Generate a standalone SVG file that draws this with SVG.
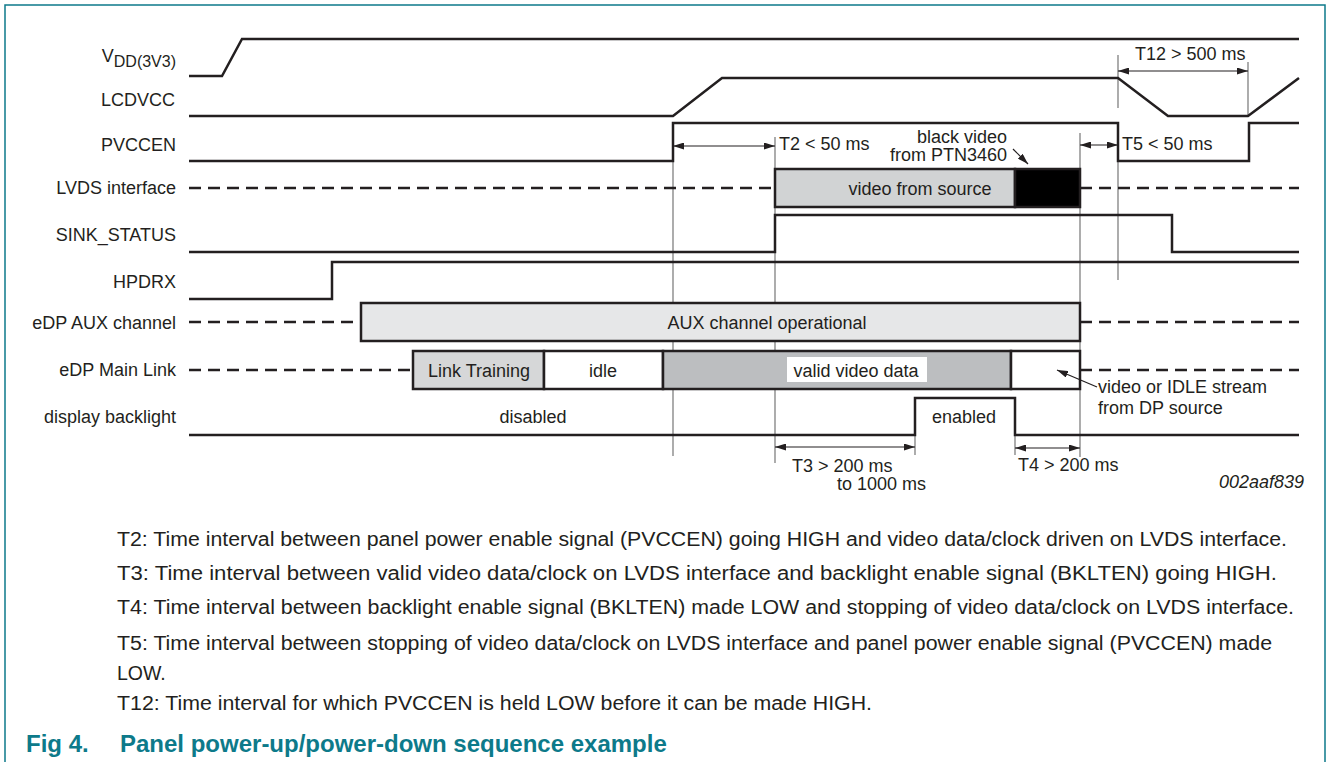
<svg xmlns="http://www.w3.org/2000/svg" width="1328" height="762" viewBox="0 0 1328 762">
<style>
.t{font-family:"Liberation Sans",Arial,sans-serif;font-size:18px;fill:#231f20}
.n{font-family:"Liberation Sans",Arial,sans-serif;font-size:19.5px;fill:#231f20}
.e{text-anchor:end}
.m{text-anchor:middle}
.sig{fill:none;stroke:#231f20;stroke-width:2.5}
.dash{fill:none;stroke:#231f20;stroke-width:2.5;stroke-dasharray:12 7}
.box{stroke:#231f20;stroke-width:2.5}
.thin{stroke:#808080;stroke-width:1.3}
.arr{stroke:#231f20;stroke-width:1.2;fill:none}
.cap{font-family:"Liberation Sans",Arial,sans-serif;font-size:24px;font-weight:bold;fill:#0d7a8a}
</style>
<defs>
<marker id="ah" viewBox="0 0 11 7" refX="11" refY="3.5" markerWidth="11" markerHeight="7" markerUnits="userSpaceOnUse" orient="auto-start-reverse">
<path d="M0,0 L11,3.5 L0,7 z" fill="#231f20"/>
</marker>
</defs>
<rect width="1328" height="762" fill="#fff"/>
<path d="M5,762 L5,5 L1325,5 L1325,762" fill="none" stroke="#0d7a8a" stroke-width="1.5"/>

<g id="guides">
<line class="thin" x1="673" y1="161" x2="673" y2="456"/>
<line class="thin" x1="775" y1="137" x2="775" y2="463"/>
<line class="thin" x1="1080" y1="133" x2="1080" y2="457"/>
<line class="thin" x1="1118" y1="55" x2="1118" y2="108"/>
<line class="thin" x1="1118" y1="161" x2="1118" y2="280"/>
<line class="thin" x1="1248" y1="62" x2="1248" y2="116"/>
<line class="thin" x1="915" y1="435" x2="915" y2="455"/>
<line class="thin" x1="1015" y1="435" x2="1015" y2="455"/>
</g>

<g id="vdd">
<text class="t e" x="176" y="62">V<tspan font-size="16" dy="5">DD(3V3)</tspan></text>
<path class="sig" d="M189,76 L222,76 L242,39 L1299,39"/>
</g>
<g id="lcdvcc">
<text class="t e" x="175" y="106">LCDVCC</text>
<path class="sig" d="M189,116 L673,116 L722,78 L1118,78 L1168,116 L1248,116 L1299,78"/>
</g>
<g id="pvccen">
<text class="t e" x="176" y="151">PVCCEN</text>
<path class="sig" d="M189,161 L673,161 L673,123 L1118,123 L1118,161 L1249,161 L1249,123 L1299,123"/>
</g>
<g id="lvds">
<text class="t e" x="176" y="194">LVDS interface</text>
<path class="dash" d="M189,188 L775,188"/>
<rect class="box" x="775" y="169" width="240" height="38" fill="#d1d3d4"/>
<rect class="box" x="1015" y="169" width="65" height="38" fill="#000"/>
<path class="dash" d="M1080,188 L1299,188"/>
<text class="t m" x="920" y="195">video from source</text>
</g>
<g id="sink">
<text class="t e" x="176" y="241">SINK_STATUS</text>
<path class="sig" d="M189,252 L775,252 L775,215 L1172,215 L1172,252 L1299,252"/>
</g>
<g id="hpdrx">
<text class="t e" x="176" y="288">HPDRX</text>
<path class="sig" d="M189,299 L332,299 L332,262 L1299,262"/>
</g>
<g id="aux">
<text class="t e" x="176" y="329">eDP AUX channel</text>
<path class="dash" d="M189,322 L361,322"/>
<rect class="box" x="361" y="303" width="719" height="38" fill="#e6e7e8"/>
<path class="dash" d="M1080,322 L1299,322"/>
<text class="t m" x="767" y="329">AUX channel operational</text>
</g>
<g id="mainlink">
<text class="t e" x="176" y="376">eDP Main Link</text>
<path class="dash" d="M189,370 L413,370"/>
<rect class="box" x="413" y="351" width="131" height="38" fill="#d6d7d8"/>
<rect class="box" x="544" y="351" width="119" height="38" fill="#fff"/>
<rect class="box" x="663" y="351" width="348" height="38" fill="#bcbec0"/>
<rect class="box" x="1011" y="351" width="69" height="38" fill="#fff"/>
<path class="dash" d="M1080,370 L1299,370"/>
<text class="t m" x="479" y="377">Link Training</text>
<text class="t m" x="603" y="377">idle</text>
<rect x="787" y="357" width="140" height="25" fill="#fff"/>
<text class="t m" x="856" y="377">valid video data</text>
</g>
<g id="backlight">
<text class="t e" x="176" y="423">display backlight</text>
<path class="sig" d="M189,435 L915,435 L915,398 L1015,398 L1015,435 L1299,435"/>
<text class="t m" x="533" y="423">disabled</text>
<text class="t m" x="964" y="423">enabled</text>
</g>

<g id="connectors">
<line class="arr" x1="673" y1="146" x2="775" y2="146" marker-start="url(#ah)" marker-end="url(#ah)"/>
<line class="arr" x1="1080" y1="145" x2="1118" y2="145" marker-start="url(#ah)" marker-end="url(#ah)"/>
<line class="arr" x1="1118" y1="71" x2="1248" y2="71" marker-start="url(#ah)" marker-end="url(#ah)"/>
<line class="arr" x1="775" y1="447" x2="915" y2="447" marker-start="url(#ah)" marker-end="url(#ah)"/>
<line class="arr" x1="1015" y1="448" x2="1080" y2="448" marker-start="url(#ah)" marker-end="url(#ah)"/>
<line class="arr" x1="1013" y1="149" x2="1028" y2="164" marker-end="url(#ah)"/>
<line class="arr" x1="1097" y1="387" x2="1057" y2="370" marker-end="url(#ah)"/>
</g>

<g id="annotations">
<text class="t" x="779" y="150">T2 &lt; 50 ms</text>
<text class="t e" x="1007" y="143">black video</text>
<text class="t e" x="1007" y="161">from PTN3460</text>
<text class="t" x="1122" y="150">T5 &lt; 50 ms</text>
<text class="t" x="1135" y="60">T12 &gt; 500 ms</text>
<text class="t" x="1098" y="393">video or IDLE stream</text>
<text class="t" x="1098" y="414">from DP source</text>
<text class="t" x="792" y="472">T3 &gt; 200 ms</text>
<text class="t" x="837" y="490">to 1000 ms</text>
<text class="t" x="1018" y="471">T4 &gt; 200 ms</text>
<text class="t e" x="1304" y="488" font-size="13.5" font-style="italic">002aaf839</text>
</g>

<g id="notes">
<text class="n" x="117" y="546" textLength="1170" lengthAdjust="spacingAndGlyphs">T2: Time interval between panel power enable signal (PVCCEN) going HIGH and video data/clock driven on LVDS interface.</text>
<text class="n" x="117" y="580" textLength="1160" lengthAdjust="spacingAndGlyphs">T3: Time interval between valid video data/clock on LVDS interface and backlight enable signal (BKLTEN) going HIGH.</text>
<text class="n" x="117" y="614" textLength="1177" lengthAdjust="spacingAndGlyphs">T4: Time interval between backlight enable signal (BKLTEN) made LOW and stopping of video data/clock on LVDS interface.</text>
<text class="n" x="117" y="650" textLength="1155" lengthAdjust="spacingAndGlyphs">T5: Time interval between stopping of video data/clock on LVDS interface and panel power enable signal (PVCCEN) made</text>
<text class="n" x="117" y="680">LOW.</text>
<text class="n" x="117" y="710" textLength="755" lengthAdjust="spacingAndGlyphs">T12: Time interval for which PVCCEN is held LOW before it can be made HIGH.</text>
</g>
<g id="caption">
<text class="cap" x="26" y="752">Fig 4.</text>
<text class="cap" x="120" y="752">Panel power-up/power-down sequence example</text>
</g>
</svg>
